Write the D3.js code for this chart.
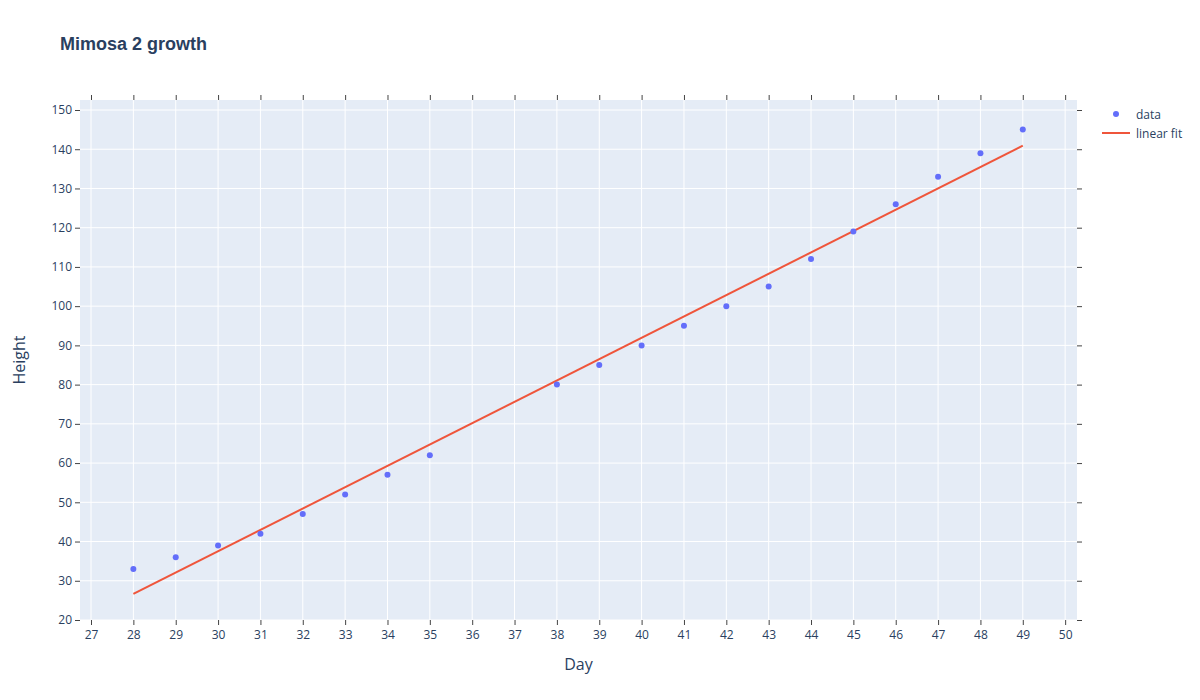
<!DOCTYPE html>
<html>
<head>
<meta charset="utf-8">
<script src="https://d3js.org/d3.v7.min.js"></script>
<style>
  body { margin: 0; background: #fff; }
  text { font-family: "Open Sans", sans-serif; fill: #2a3f5f; }
</style>
</head>
<body>
<div class="chart"></div>
<script>
// data
var days = [28, 29, 30, 31, 32, 33, 34, 35, 38, 39, 40, 41, 42, 43, 44, 45, 46, 47, 48, 49];
var heights = [33, 36, 39, 42, 47, 52, 57, 62, 80, 85, 90, 95, 100, 105, 112, 119, 126, 133, 139, 145];
var fitDays = [28, 49];
var fitHeights = [26.65, 140.9];
var xTicks = d3.range(27, 51);
var yTicks = d3.range(20, 151, 10);

var svgWidth = 1200;
var svgHeight = 700;
var margin = { top: 100, right: 123, bottom: 80, left: 80 };
var width = svgWidth - margin.left - margin.right;
var height = svgHeight - margin.top - margin.bottom;

var svg = d3.select(".chart")
  .append("svg")
  .attr("width", svgWidth)
  .attr("height", svgHeight);

var chartGroup = svg.append("g")
  .attr("transform", `translate(${margin.left}, ${margin.top})`);

var x = d3.scaleLinear().domain([26.74, 50.28]).range([0, width]);
var y = d3.scaleLinear().domain([20, 152.55]).range([height, 0]);

// background
chartGroup.append("rect")
  .attr("width", width)
  .attr("height", height)
  .attr("fill", "#e5ecf6");

// gridlines
chartGroup.selectAll(".xgrid")
  .data(xTicks)
  .enter()
  .append("line")
  .attr("x1", d => x(d)).attr("x2", d => x(d))
  .attr("y1", 0).attr("y2", height)
  .attr("stroke", "#fff").attr("stroke-width", 1);

chartGroup.selectAll(".ygrid")
  .data(yTicks)
  .enter()
  .append("line")
  .attr("x1", 0).attr("x2", width)
  .attr("y1", d => y(d)).attr("y2", d => y(d))
  .attr("stroke", "#fff").attr("stroke-width", 1);

// axes, with mirrored ticks
function styleAxis(g, showText) {
  g.select(".domain").remove();
  g.selectAll(".tick line").attr("stroke", "#444");
  g.selectAll(".tick text")
    .style("font-size", "12px")
    .attr("fill", "#2a3f5f");
  if (!showText) g.selectAll(".tick text").remove();
}

chartGroup.append("g")
  .attr("transform", `translate(0, ${height})`)
  .call(d3.axisBottom(x).tickValues(xTicks).tickSize(5).tickPadding(5).tickFormat(d3.format("d")))
  .call(g => styleAxis(g, true));

chartGroup.append("g")
  .call(d3.axisTop(x).tickValues(xTicks).tickSize(5))
  .call(g => styleAxis(g, false));

chartGroup.append("g")
  .call(d3.axisLeft(y).tickValues(yTicks).tickSize(5).tickPadding(3).tickFormat(d3.format("d")))
  .call(g => styleAxis(g, true));

chartGroup.append("g")
  .attr("transform", `translate(${width}, 0)`)
  .call(d3.axisRight(y).tickValues(yTicks).tickSize(5))
  .call(g => styleAxis(g, false));

// fit line
var line = d3.line()
  .x((d, i) => x(fitDays[i]))
  .y(d => y(d));

chartGroup.append("path")
  .datum(fitHeights)
  .attr("d", line)
  .attr("fill", "none")
  .attr("stroke", "#EF553B")
  .attr("stroke-width", 2);

// data points
chartGroup.selectAll("circle")
  .data(heights)
  .enter()
  .append("circle")
  .attr("cx", (d, i) => x(days[i]))
  .attr("cy", d => y(d))
  .attr("r", 3)
  .attr("fill", "#636efa");

// title
svg.append("text")
  .attr("x", 60)
  .attr("y", 50)
  .style("font-family", "'Liberation Sans', Arial, sans-serif")
  .style("font-weight", "bold")
  .style("font-size", "18px")
  .text("Mimosa 2 growth");

// axis titles
svg.append("text")
  .attr("x", margin.left + width / 2)
  .attr("y", 670)
  .attr("text-anchor", "middle")
  .style("font-size", "16px")
  .text("Day");

svg.append("text")
  .attr("transform", `translate(25, ${margin.top + height / 2}) rotate(-90)`)
  .attr("text-anchor", "middle")
  .style("font-size", "16px")
  .text("Height");

// legend
var legend = svg.append("g").attr("transform", "translate(1102, 114)");

legend.append("circle")
  .attr("cx", 14).attr("cy", 0).attr("r", 3)
  .attr("fill", "#636efa");
legend.append("text")
  .attr("x", 34).attr("y", 4.5)
  .style("font-size", "12px")
  .text("data");

legend.append("line")
  .attr("x1", 0).attr("x2", 28)
  .attr("y1", 19).attr("y2", 19)
  .attr("stroke", "#EF553B").attr("stroke-width", 2);
legend.append("text")
  .attr("x", 34).attr("y", 23.5)
  .style("font-size", "12px")
  .text("linear fit");
</script>
</body>
</html>
